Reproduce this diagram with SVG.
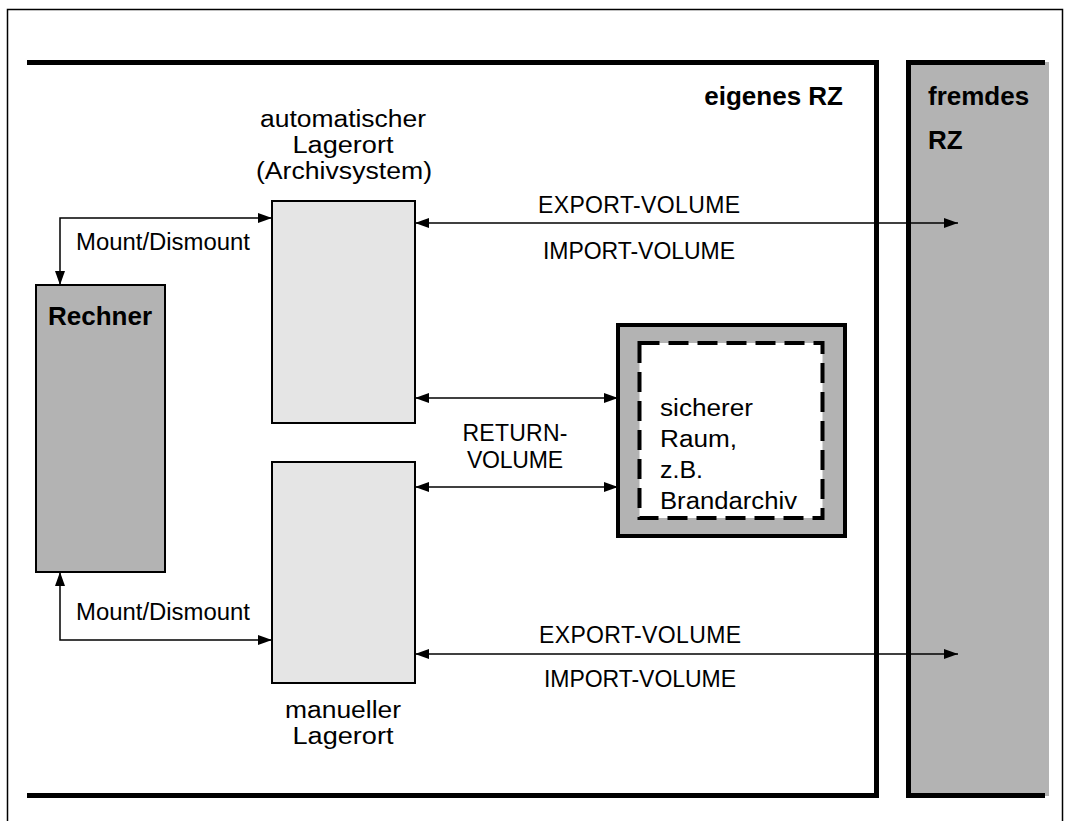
<svg xmlns="http://www.w3.org/2000/svg" width="1068" height="821" viewBox="0 0 1068 821">
<defs>
<marker id="ah" markerUnits="userSpaceOnUse" markerWidth="15" markerHeight="11" refX="14" refY="5" orient="auto-start-reverse"><path d="M0,0 L14,5 L0,10 z" fill="#000"/></marker>
<style>
.t{font-family:"Liberation Sans",Arial,sans-serif;font-size:23px;fill:#000}
.g{font-size:26px}
.b{font-weight:bold}
.m{text-anchor:middle}
.c{fill:none;stroke:#000;stroke-width:1.5}
.frame{fill:none;stroke:#000;stroke-width:5}
.box{stroke:#000;stroke-width:2}
</style>
</defs>
<rect width="1068" height="821" fill="#fff"/>
<rect x="7.5" y="9.5" width="1055" height="820" fill="none" stroke="#000" stroke-width="1.5"/>
<g id="eigenesRZ">
<path class="frame" d="M27,62.5 H876.5 V795.5 H27"/>
<text class="t g b" x="843" y="105" text-anchor="end">eigenes RZ</text>
</g>
<g id="fremdesRZ">
<rect x="908" y="62" width="141" height="734" fill="#b3b3b3"/>
<path class="frame" d="M1045,62.5 H908.5 V795.5 H1045"/>
<text class="t g b" x="928" y="105">fremdes</text>
<text class="t g b" x="928" y="149">RZ</text>
</g>
<g id="rechner">
<rect class="box" x="36" y="285" width="129" height="287" fill="#b3b3b3"/>
<text class="t g b" x="48" y="325">Rechner</text>
</g>
<g id="auto">
<rect class="box" x="272" y="201" width="143" height="222" fill="#e5e5e5"/>
<text class="t m" x="343" y="127" textLength="166" lengthAdjust="spacingAndGlyphs">automatischer</text>
<text class="t m" x="343" y="153" textLength="101" lengthAdjust="spacingAndGlyphs">Lagerort</text>
<text class="t m" x="344" y="179" textLength="176" lengthAdjust="spacingAndGlyphs">(Archivsystem)</text>
</g>
<g id="manuell">
<rect class="box" x="272" y="462" width="143" height="221" fill="#e5e5e5"/>
<text class="t m" x="343" y="718" textLength="116" lengthAdjust="spacingAndGlyphs">manueller</text>
<text class="t m" x="343" y="744" textLength="101" lengthAdjust="spacingAndGlyphs">Lagerort</text>
</g>
<g id="sicher">
<rect x="618" y="325" width="227" height="211" fill="#b3b3b3" stroke="#000" stroke-width="4"/>
<rect x="639.5" y="343" width="183" height="175" fill="#fff" stroke="#000" stroke-width="4" stroke-dasharray="20 9"/>
<text class="t" x="660" y="416" textLength="93" lengthAdjust="spacingAndGlyphs">sicherer</text>
<text class="t" x="660" y="447" textLength="77" lengthAdjust="spacingAndGlyphs">Raum,</text>
<text class="t" x="660" y="478" textLength="43" lengthAdjust="spacingAndGlyphs">z.B.</text>
<text class="t" x="660" y="509" textLength="137" lengthAdjust="spacingAndGlyphs">Brandarchiv</text>
</g>
<g id="connectors">
<path class="c" d="M272,218 H60 V285" marker-start="url(#ah)" marker-end="url(#ah)"/>
<path class="c" d="M60,572 V640 H272" marker-start="url(#ah)" marker-end="url(#ah)"/>
<path class="c" d="M415,223 H958" marker-start="url(#ah)" marker-end="url(#ah)"/>
<path class="c" d="M415,654 H958" marker-start="url(#ah)" marker-end="url(#ah)"/>
<path class="c" d="M415,398 H618" marker-start="url(#ah)" marker-end="url(#ah)"/>
<path class="c" d="M415,487 H618" marker-start="url(#ah)" marker-end="url(#ah)"/>
<text class="t" x="76" y="250" textLength="174" lengthAdjust="spacingAndGlyphs">Mount/Dismount</text>
<text class="t" x="76" y="620" textLength="174" lengthAdjust="spacingAndGlyphs">Mount/Dismount</text>
<text class="t m" x="639" y="213" textLength="202">EXPORT-VOLUME</text>
<text class="t m" x="639" y="259" textLength="192">IMPORT-VOLUME</text>
<text class="t m" x="640" y="643" textLength="202">EXPORT-VOLUME</text>
<text class="t m" x="640" y="687" textLength="192">IMPORT-VOLUME</text>
<text class="t m" x="515" y="441" textLength="105">RETURN-</text>
<text class="t m" x="515" y="468" textLength="96">VOLUME</text>
</g>
</svg>
